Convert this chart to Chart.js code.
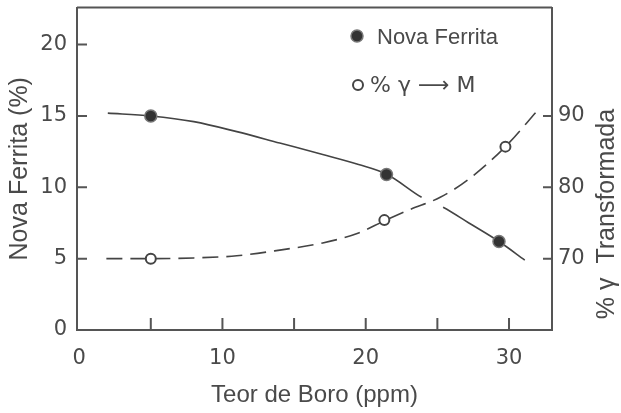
<!DOCTYPE html>
<html><head><meta charset="utf-8">
<script src="https://cdn.jsdelivr.net/npm/chart.js@4.4.0/dist/chart.umd.min.js"></script>
<style>html,body{margin:0;padding:0;background:#fff;overflow:hidden}</style>
</head><body>
<canvas id="c" width="621" height="413"></canvas>
<script>
// ---- data ----
const xTickLabels = [0, 10, 20, 30];
const xTickMarks = [5, 10, 15, 20, 25, 30];
const yLeftTicks = [0, 5, 10, 15, 20];
const yRightTicks = [70, 80, 90];

const ferriteCurveX = [2.0, 5.0, 8, 11, 14, 17, 19.5, 21.5, 23.9, 25.4, 27.2, 29.3, 31.1];
const ferriteCurveY = [15.2, 15.0, 14.6, 13.9, 13.1, 12.3, 11.6, 10.9, 9.3, 8.6, 7.5, 6.2, 4.9];
const gammaCurveX = [1.9, 5.0, 8, 11, 14, 17, 19.5, 21.3, 23.1, 25.2, 27.1, 29.75, 32.0];
const gammaCurveY = [70, 70, 70.1, 70.4, 71.2, 72.2, 73.6, 75.3, 76.9, 78.6, 81.0, 85.7, 90.8];

const ferritePointsX = [5.0, 21.45, 29.3];
const ferritePointsY = [15.0, 10.9, 6.2];
const gammaPointsX = [5.0, 21.3, 29.75];
const gammaPointsY = [70, 75.4, 85.7];

const seriesNames = ['Nova Ferrita', '% γ ⟶ M'];
const xTitle = 'Teor de Boro (ppm)';
const yTitle = 'Nova Ferrita (%)';
const y2Title = '% γ  Transformada';

const zip = (xs, ys) => xs.map((x, i) => ({x: x, y: ys[i]}));
const INK = '#4a4a4a';
const AXIS = '#555';

const decor = {
  id: 'decor',
  afterDraw(chart) {
    const ctx = chart.ctx;
    const a = chart.chartArea;
    const sx = chart.scales.x, sy = chart.scales.y, sy2 = chart.scales.y2;
    ctx.save();
    ctx.strokeStyle = AXIS;
    ctx.lineWidth = 2;
    // top frame line
    ctx.beginPath(); ctx.moveTo(a.left, a.top); ctx.lineTo(a.right, a.top); ctx.stroke();
    // inward tick marks
    ctx.beginPath();
    yLeftTicks.forEach(v => { const p = sy.getPixelForValue(v); ctx.moveTo(a.left, p); ctx.lineTo(a.left + 10, p); });
    xTickMarks.forEach(v => { const p = sx.getPixelForValue(v); ctx.moveTo(p, a.bottom); ctx.lineTo(p, a.bottom - 12); });
    yRightTicks.forEach(v => { const p = sy2.getPixelForValue(v); ctx.moveTo(a.right, p); ctx.lineTo(a.right - 9, p); });
    ctx.stroke();
    // legend
    ctx.fillStyle = '#333'; ctx.strokeStyle = '#777'; ctx.lineWidth = 1.5;
    ctx.beginPath(); ctx.arc(357, 36, 6, 0, Math.PI * 2); ctx.fill(); ctx.stroke();
    ctx.fillStyle = INK;
    ctx.font = '22px "Liberation Sans"';
    ctx.textBaseline = 'alphabetic'; ctx.textAlign = 'left';
    ctx.fillText(seriesNames[0], 377, 44);
    ctx.strokeStyle = '#444'; ctx.lineWidth = 2; ctx.fillStyle = '#fff';
    ctx.beginPath(); ctx.arc(358, 85, 5, 0, Math.PI * 2); ctx.fill(); ctx.stroke();
    ctx.fillStyle = INK;
    ctx.font = '22px "DejaVu Sans"';
    ctx.fillText(seriesNames[1], 370, 92);
    // right title (reads bottom to top)
    ctx.translate(607, 214);
    ctx.rotate(-Math.PI / 2);
    ctx.textAlign = 'center'; ctx.textBaseline = 'middle';
    ctx.font = '25px "Liberation Sans"';
    ctx.fillText(y2Title, 0, 0);
    ctx.restore();
  }
};

const tickFont = {family: 'DejaVu Sans', size: 21};
const titleFont = {family: 'Liberation Sans', size: 24};
const noPad = s => { s.paddingTop = 0; s.paddingBottom = 0; s.paddingLeft = 0; s.paddingRight = 0; };

new Chart(document.getElementById('c'), {
  type: 'line',
  data: {
    datasets: [
      {label: seriesNames[0] + ' pts', data: zip(ferritePointsX, ferritePointsY), yAxisID: 'y', showLine: false,
       pointRadius: 6, pointBackgroundColor: '#333', pointBorderColor: '#777', pointBorderWidth: 1.5, order: 0},
      {label: seriesNames[1] + ' pts', data: zip(gammaPointsX, gammaPointsY), yAxisID: 'y2', showLine: false,
       pointRadius: 5, pointBackgroundColor: '#fff', pointBorderColor: '#444', pointBorderWidth: 2, order: 0},
      {label: seriesNames[0], data: zip(ferriteCurveX, ferriteCurveY), yAxisID: 'y', pointRadius: 0,
       borderColor: '#444', borderWidth: 1.6, cubicInterpolationMode: 'monotone', order: 1,
       segment: {borderColor: c => (c.p0.parsed.x >= 23.8 && c.p1.parsed.x <= 25.5) ? 'rgba(0,0,0,0)' : undefined}},
      {label: seriesNames[1], data: zip(gammaCurveX, gammaCurveY), yAxisID: 'y2', pointRadius: 0,
       borderColor: '#444', borderWidth: 1.6, borderDash: [16, 8], cubicInterpolationMode: 'monotone', order: 1}
    ]
  },
  options: {
    responsive: false,
    animation: false,
    layout: {padding: {top: 6, left: 0, right: 0, bottom: 0}},
    plugins: {legend: {display: false}, tooltip: {enabled: false}},
    scales: {
      x: {
        type: 'linear', position: 'bottom', min: -0.15, max: 33,
        grid: {display: false, drawTicks: false},
        border: {display: true, color: AXIS, width: 2},
        afterBuildTicks: s => { s.ticks = xTickLabels.map(v => ({value: v})); },
        afterFit: s => { s.height = 83; noPad(s); },
        ticks: {font: tickFont, color: INK, padding: 16, maxRotation: 0},
        title: {display: true, text: xTitle, font: titleFont, color: INK, padding: {top: 0, bottom: 3}}
      },
      y: {
        type: 'linear', position: 'left', min: 0, max: 22.6,
        grid: {display: false, drawTicks: false},
        border: {display: true, color: AXIS, width: 2},
        afterBuildTicks: s => { s.ticks = yLeftTicks.map(v => ({value: v})); },
        afterFit: s => { s.width = 77; noPad(s); },
        ticks: {font: tickFont, color: INK, padding: 10},
        title: {display: true, text: yTitle, font: {family: 'Liberation Sans', size: 25}, color: INK, padding: {top: 5, bottom: 0}}
      },
      y2: {
        type: 'linear', position: 'right', min: 60, max: 105.2,
        grid: {display: false, drawTicks: false},
        border: {display: true, color: AXIS, width: 2},
        afterBuildTicks: s => { s.ticks = yRightTicks.map(v => ({value: v})); },
        afterFit: s => { s.width = 69; noPad(s); },
        ticks: {font: tickFont, color: INK, padding: 6},
        title: {display: false}
      }
    }
  },
  plugins: [decor]
});
</script>
</body></html>
